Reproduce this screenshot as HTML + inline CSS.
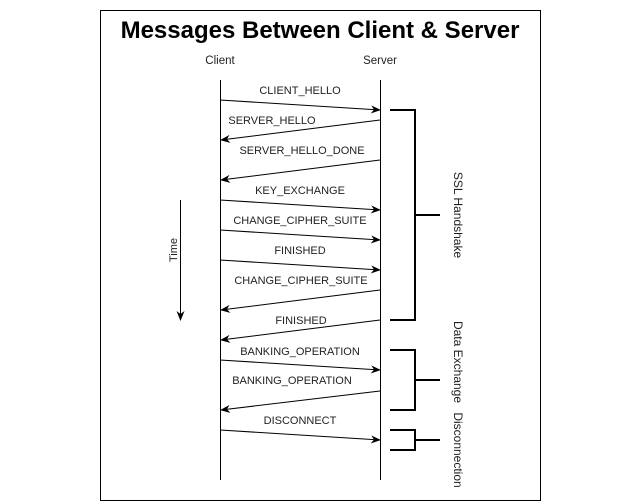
<!DOCTYPE html>
<html><head><style>body{margin:0;background:#fff}svg{display:block}</style></head><body>
<svg width="641" height="501" viewBox="0 0 641 501" xmlns="http://www.w3.org/2000/svg" font-family="Liberation Sans, Arial, sans-serif">
<defs><marker id="a" markerWidth="10" markerHeight="8" refX="9" refY="4" orient="auto" markerUnits="userSpaceOnUse"><path d="M0,0 L10,4 L0,8 L3,4 Z" fill="#000"/></marker></defs>
<rect x="100.5" y="10.5" width="440" height="490" fill="#fff" stroke="#000"/>
<text x="320" y="38" font-size="24" font-weight="bold" text-anchor="middle">Messages Between Client &amp; Server</text>
<g font-size="11.5" text-anchor="middle" fill="#222">
<text x="220" y="64">Client</text><text x="380" y="64">Server</text>
</g>
<g stroke="#000" stroke-width="1">
<line x1="220.5" y1="80" x2="220.5" y2="480"/>
<line x1="380.5" y1="80" x2="380.5" y2="480"/>
<line x1="220" y1="100" x2="380" y2="110" marker-end="url(#a)"/>
<line x1="380" y1="120" x2="221" y2="140" marker-end="url(#a)"/>
<line x1="380" y1="160" x2="221" y2="180" marker-end="url(#a)"/>
<line x1="220" y1="200" x2="380" y2="210" marker-end="url(#a)"/>
<line x1="220" y1="230" x2="380" y2="240" marker-end="url(#a)"/>
<line x1="220" y1="260" x2="380" y2="270" marker-end="url(#a)"/>
<line x1="380" y1="290" x2="221" y2="310" marker-end="url(#a)"/>
<line x1="380" y1="320" x2="221" y2="340" marker-end="url(#a)"/>
<line x1="220" y1="360" x2="380" y2="370" marker-end="url(#a)"/>
<line x1="380" y1="391" x2="221" y2="410" marker-end="url(#a)"/>
<line x1="220" y1="430" x2="380" y2="440" marker-end="url(#a)"/>
<line x1="180.5" y1="200" x2="180.5" y2="320" marker-end="url(#a)"/>
</g>
<g fill="none" stroke="#000" stroke-width="2">
<path d="M390,110 H415 V320 H390 M415,215 H440"/>
<path d="M390,350 H415 V410 H390 M415,380 H440"/>
<path d="M390,430 H415 V450 H390 M415,440 H440"/>
</g>
<g font-size="11" text-anchor="middle" fill="#222">
<text x="300" y="94">CLIENT_HELLO</text>
<text x="272" y="124">SERVER_HELLO</text>
<text x="302" y="154">SERVER_HELLO_DONE</text>
<text x="300" y="194">KEY_EXCHANGE</text>
<text x="300" y="224">CHANGE_CIPHER_SUITE</text>
<text x="300" y="254">FINISHED</text>
<text x="301" y="284">CHANGE_CIPHER_SUITE</text>
<text x="301" y="324">FINISHED</text>
<text x="300" y="355">BANKING_OPERATION</text>
<text x="292" y="384">BANKING_OPERATION</text>
<text x="300" y="424">DISCONNECT</text>
</g>
<g font-size="12" text-anchor="middle" fill="#222">
<text transform="translate(177,250) rotate(-90)" font-size="11">Time</text>
<text transform="translate(454,215) rotate(90)">SSL Handshake</text>
<text transform="translate(454,362) rotate(90)">Data Exchange</text>
<text transform="translate(454,450) rotate(90)">Disconnection</text>
</g>
</svg>
</body></html>
